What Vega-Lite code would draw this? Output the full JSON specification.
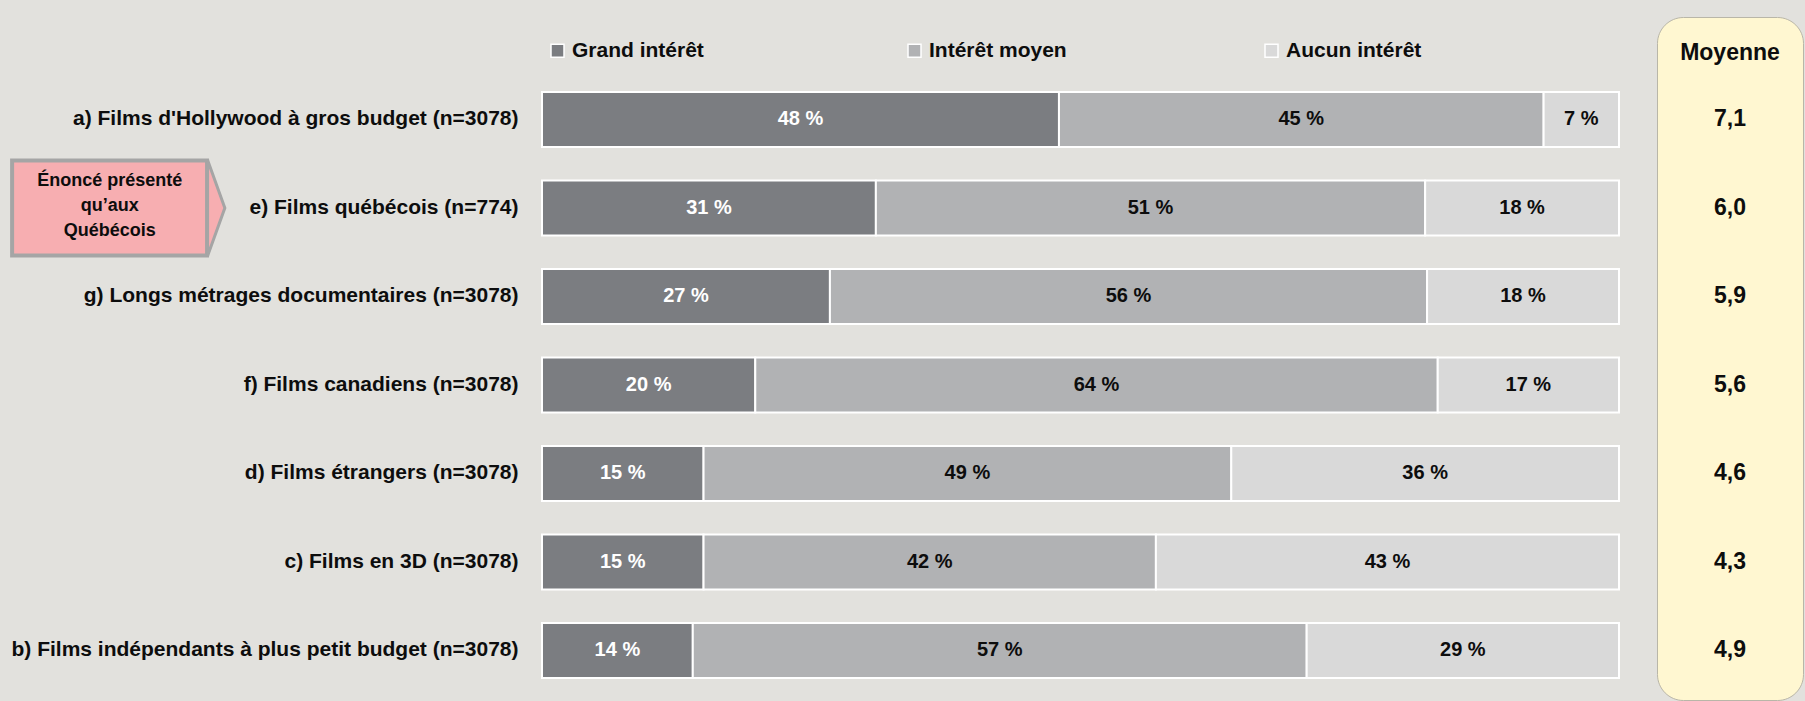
{
  "$schema": "https://vega.github.io/schema/vega-lite/v6.json",
  "background": "#E2E1DD",
  "padding": {"left": 10, "top": 16, "right": 2, "bottom": 2},
  "config": {
    "view": {"stroke": null},
    "font": "Liberation Sans",
    "text": {"font": "Liberation Sans"}
  },
  "datasets": {
    "parts": [
      {"item": "a) Films d'Hollywood à gros budget (n=3078)", "categorie": "Grand intérêt", "niveau": 3, "pct": 48},
      {"item": "a) Films d'Hollywood à gros budget (n=3078)", "categorie": "Intérêt moyen", "niveau": 2, "pct": 45},
      {"item": "a) Films d'Hollywood à gros budget (n=3078)", "categorie": "Aucun intérêt", "niveau": 1, "pct": 7},
      {"item": "e) Films québécois (n=774)", "categorie": "Grand intérêt", "niveau": 3, "pct": 31},
      {"item": "e) Films québécois (n=774)", "categorie": "Intérêt moyen", "niveau": 2, "pct": 51},
      {"item": "e) Films québécois (n=774)", "categorie": "Aucun intérêt", "niveau": 1, "pct": 18},
      {"item": "g) Longs métrages documentaires (n=3078)", "categorie": "Grand intérêt", "niveau": 3, "pct": 27},
      {"item": "g) Longs métrages documentaires (n=3078)", "categorie": "Intérêt moyen", "niveau": 2, "pct": 56},
      {"item": "g) Longs métrages documentaires (n=3078)", "categorie": "Aucun intérêt", "niveau": 1, "pct": 18},
      {"item": "f) Films canadiens (n=3078)", "categorie": "Grand intérêt", "niveau": 3, "pct": 20},
      {"item": "f) Films canadiens (n=3078)", "categorie": "Intérêt moyen", "niveau": 2, "pct": 64},
      {"item": "f) Films canadiens (n=3078)", "categorie": "Aucun intérêt", "niveau": 1, "pct": 17},
      {"item": "d) Films étrangers (n=3078)", "categorie": "Grand intérêt", "niveau": 3, "pct": 15},
      {"item": "d) Films étrangers (n=3078)", "categorie": "Intérêt moyen", "niveau": 2, "pct": 49},
      {"item": "d) Films étrangers (n=3078)", "categorie": "Aucun intérêt", "niveau": 1, "pct": 36},
      {"item": "c) Films en 3D (n=3078)", "categorie": "Grand intérêt", "niveau": 3, "pct": 15},
      {"item": "c) Films en 3D (n=3078)", "categorie": "Intérêt moyen", "niveau": 2, "pct": 42},
      {"item": "c) Films en 3D (n=3078)", "categorie": "Aucun intérêt", "niveau": 1, "pct": 43},
      {"item": "b) Films indépendants à plus petit budget (n=3078)", "categorie": "Grand intérêt", "niveau": 3, "pct": 14},
      {"item": "b) Films indépendants à plus petit budget (n=3078)", "categorie": "Intérêt moyen", "niveau": 2, "pct": 57},
      {"item": "b) Films indépendants à plus petit budget (n=3078)", "categorie": "Aucun intérêt", "niveau": 1, "pct": 29}
    ],
    "moyennes": [
      {"item": "a) Films d'Hollywood à gros budget (n=3078)", "moyenne": "7,1"},
      {"item": "e) Films québécois (n=774)", "moyenne": "6,0"},
      {"item": "g) Longs métrages documentaires (n=3078)", "moyenne": "5,9"},
      {"item": "f) Films canadiens (n=3078)", "moyenne": "5,6"},
      {"item": "d) Films étrangers (n=3078)", "moyenne": "4,6"},
      {"item": "c) Films en 3D (n=3078)", "moyenne": "4,3"},
      {"item": "b) Films indépendants à plus petit budget (n=3078)", "moyenne": "4,9"}
    ],
    "note": [
      {"item": "e) Films québécois (n=774)", "texte": "Énoncé présenté\nqu’aux\nQuébécois"}
    ]
  },
  "hconcat": [
    {
      "width": 1077,
      "height": 683,
      "layer": [
        {
          "data": {"name": "parts"},
          "mark": {"type": "bar", "stroke": "white", "strokeWidth": 2},
          "encoding": {
            "y": {
              "field": "item", "type": "nominal",
              "scale": {
                "type": "band",
                "domain": [
                  "a) Films d'Hollywood à gros budget (n=3078)",
                  "e) Films québécois (n=774)",
                  "g) Longs métrages documentaires (n=3078)",
                  "f) Films canadiens (n=3078)",
                  "d) Films étrangers (n=3078)",
                  "c) Films en 3D (n=3078)",
                  "b) Films indépendants à plus petit budget (n=3078)"
                ],
                "paddingInner": 0.3785, "paddingOuter": 0.548, "align": 0.773
              },
              "axis": {
                "title": null, "domain": false, "ticks": false, "grid": false,
                "labelPadding": 24, "labelFontSize": 21, "labelFontWeight": "bold",
                "labelColor": "#0D0D0D", "labelFont": "Liberation Sans", "labelLimit": 560
              }
            },
            "x": {
              "field": "pct", "type": "quantitative", "stack": "normalize",
              "scale": {"domain": [0, 1]}, "axis": null
            },
            "color": {
              "field": "categorie", "type": "nominal",
              "scale": {
                "domain": ["Grand intérêt", "Intérêt moyen", "Aucun intérêt"],
                "range": ["#7B7D81", "#B1B2B4", "#D9D9D9"]
              },
              "legend": {
                "title": null, "orient": "none", "legendX": 5, "legendY": 23,
                "direction": "horizontal", "columns": 3, "gridAlign": "all",
                "columnPadding": 194, "padding": 0,
                "symbolType": "square", "symbolSize": 169,
                "symbolStrokeColor": "white", "symbolStrokeWidth": 1.5,
                "labelFontSize": 21, "labelFontWeight": "bold", "labelColor": "#0D0D0D",
                "labelFont": "Liberation Sans", "labelOffset": 4, "labelLimit": 300
              }
            },
            "order": {"field": "niveau", "sort": "descending"}
          }
        },
        {
          "data": {"name": "parts"},
          "transform": [{"calculate": "datum.pct + ' %'", "as": "etiquette"}],
          "mark": {"type": "text", "fontSize": 20, "fontWeight": "bold", "align": "center", "baseline": "middle"},
          "encoding": {
            "y": {"field": "item", "type": "nominal"},
            "x": {"field": "pct", "type": "quantitative", "stack": "normalize", "bandPosition": 0.5},
            "detail": {"field": "niveau"},
            "order": {"field": "niveau", "sort": "descending"},
            "text": {"field": "etiquette"},
            "color": {"condition": {"test": "datum.niveau == 3", "value": "#FFFFFF"}, "value": "#0D0D0D"}
          }
        },
        {
          "data": {"name": "note"},
          "mark": {"type": "rect", "fill": "#F7AEB1", "stroke": "#A5A5A5", "strokeWidth": 4, "height": 95},
          "encoding": {
            "y": {"field": "item", "type": "nominal"},
            "x": {"datum": -0.492, "type": "quantitative"},
            "x2": {"datum": -0.311}
          }
        },
        {
          "data": {"name": "note"},
          "mark": {"type": "point", "shape": "M -0.18 -1 L 0.18 0 L -0.18 1 Z", "size": 9216, "filled": true, "fill": "#F7AEB1", "fillOpacity": 1, "stroke": "#A5A5A5", "strokeWidth": 3, "strokeOpacity": 1},
          "encoding": {
            "y": {"field": "item", "type": "nominal"},
            "x": {"datum": -0.3025, "type": "quantitative"}
          }
        },
        {
          "data": {"name": "note"},
          "mark": {"type": "text", "lineBreak": "\n", "lineHeight": 25, "fontSize": 18, "fontWeight": "bold", "color": "#0D0D0D", "align": "center", "baseline": "middle", "dy": -27},
          "encoding": {
            "y": {"field": "item", "type": "nominal"},
            "x": {"datum": -0.4013, "type": "quantitative"},
            "text": {"field": "texte"}
          }
        }
      ]
    },
    {
      "width": 146,
      "height": 683,
      "view": {"fill": "#FFF7D1", "stroke": "#B9B6A8", "strokeWidth": 1, "cornerRadius": 26},
      "title": {"text": "Moyenne", "orient": "top", "anchor": "middle", "offset": -59, "baseline": "middle", "fontSize": 23, "fontWeight": "bold", "color": "#0D0D0D", "font": "Liberation Sans"},
      "data": {"name": "moyennes"},
      "mark": {"type": "text", "fontSize": 23, "fontWeight": "bold", "color": "#0D0D0D", "baseline": "middle"},
      "encoding": {
        "y": {
          "field": "item", "type": "nominal",
          "scale": {
            "type": "band",
            "domain": [
              "a) Films d'Hollywood à gros budget (n=3078)",
              "e) Films québécois (n=774)",
              "g) Longs métrages documentaires (n=3078)",
              "f) Films canadiens (n=3078)",
              "d) Films étrangers (n=3078)",
              "c) Films en 3D (n=3078)",
              "b) Films indépendants à plus petit budget (n=3078)"
            ],
            "paddingInner": 0.3785, "paddingOuter": 0.548, "align": 0.773
          },
          "axis": null
        },
        "text": {"field": "moyenne"}
      }
    }
  ],
  "spacing": 38,
  "bounds": "flush"
}
